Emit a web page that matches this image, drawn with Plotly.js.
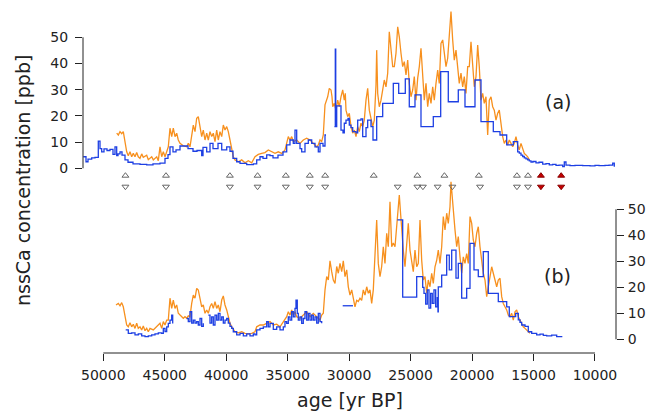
<!DOCTYPE html>
<html><head><meta charset="utf-8">
<script src="https://cdn.plot.ly/plotly-3.0.1.min.js"></script>
<style>html,body{margin:0;padding:0;background:#fff}#chart{width:646px;height:420px}</style>
</head><body><div id="chart"></div>
<script>
// ---- panel (a) ----
const ageOrangeA = [48910,48779,48641,48503,48373,48234,48096,47966,47828,47690,47559,47421,47283,47153,47014,46876,46746,46469,46339,46062,45932,45655,45525,45387,45249,45118,44980,44842,44712,44574,44435,44305,44167,44029,43899,43760,43492,43215,43085,42947,42808,42678,42540,42402,42272,42133,41995,41865,41726,41588,41458,41319,41181,41051,40913,40774,40644,40506,40367,40237,40099,39960,39830,39693,39554,39424,39285,39017,38741,38472,38204,37927,37659,37390,37114,36846,36577,36301,36032,35763,35487,35219,35080,34950,34812,34673,34543,34267,33998,33730,33453,33185,32916,32640,32509,32371,32233,32103,31964,31745,31615,31476,31394,31337,31208,31069,30931,30801,30663,30524,30394,30313,30256,30118,29987,29849,29711,29581,29442,29304,29174,29036,28898,28768,28629,28491,28361,28222,28084,27954,27816,27759,27678,27548,27409,27271,27141,27002,26864,26734,26595,26457,26327,26189,26050,25920,25782,25644,25513,25375,25237,25107,24968,24830,24700,24562,24423,24293,24155,24017,23887,23748,23610,23480,23341,23203,23073,22935,22797,22667,22528,22390,22260,22121,21983,21853,21715,21576,21446,21308,21170,21040,20901,20763,20633,20495,20356,20226,20088,19950,19820,19681,19543,19413,19274,19136,19006,18868,18729,18599,18461,18323,18193,18054,17916,17786,17648,17509,17379,17241,17103,16973,16834,16696,16566,16428,16289,16159,16020,15882,15752,15614,15475,15345];
const orangeA = [13.4,12.7,14.0,13.2,14.0,9.5,6.3,4.8,6.3,4.4,5.7,4.4,6.0,4.4,3.8,5.5,4.2,5.0,3.3,4.4,3.2,4.4,2.9,8.2,4.4,6.3,4.4,6.3,8.2,15.3,12.1,15.3,12.1,13.4,10.8,9.5,8.6,8.2,9.5,8.2,13.4,16.5,14.0,19.1,19.7,15.3,12.1,14.6,10.8,13.4,10.8,14.0,12.1,13.4,10.2,14.6,10.8,14.0,12.1,16.5,14.6,15.9,14.0,10.8,7.5,4.4,3.2,2.5,3.2,2.1,2.9,2.1,4.4,5.3,5.7,6.0,7.0,6.3,5.7,6.3,5.7,7.0,9.5,12.1,10.8,12.1,10.2,10.8,9.5,10.8,11.5,10.8,9.5,8.2,8.9,10.8,10.2,12.7,24.2,27.3,30.5,29.9,27.3,23.5,24.8,22.2,26.0,23.5,27.3,29.9,26.0,28.6,22.2,19.7,21.0,15.9,13.4,14.6,12.1,15.9,14.0,17.2,15.9,18.4,26.0,30.5,22.2,18.4,15.9,18.4,31.8,45.1,28.6,23.5,26.0,29.9,33.7,31.1,36.3,52.1,46.4,38.8,38.8,43.9,54.0,50.2,43.9,38.8,40.7,35.6,41.3,32.4,27.3,29.9,35.0,26.0,34.4,38.8,45.8,34.9,26.0,32.4,23.5,28.6,24.8,31.1,26.0,32.4,37.5,32.4,47.7,49.0,43.9,38.8,42.0,50.2,59.8,49.0,41.3,45.1,38.8,32.4,36.3,31.1,35.0,28.6,38.8,38.8,48.3,38.8,31.1,35.0,47.0,38.8,26.0,28.6,24.8,27.3,12.7,26.0,27.3,23.5,22.2,18.4,21.0,22.2,15.9,12.1,9.5,10.8,8.9,10.8,9.5,8.2,9.5,12.1,8.9,7.0,9.5,7.0,5.7,5.1,4.4,3.2];

const ageBlueA = [51627,51407,51244,50943,50675,50406,50268,50130,49943,49699,49455,49211,49048,48910,48804,48641,48478,48234,47990,47583,47014,46469,45957,45387,44980,44736,44574,44330,44085,43760,43109,42702,42377,41995,41889,41588,41319,41075,40668,40367,39960,39693,39449,39148,38879,38334,37797,37520,37252,37008,36707,36438,36194,35788,35381,35080,34812,34543,34405,34267,33998,33860,33592,33323,33046,32778,32509,32371,32290,32127,31964,31883,31500,31200,31126,31090,31012,30663,30500,30394,30256,30093,29987,29849,29711,29442,29304,29036,28898,28629,28491,28222,28060,27759,27271,26408,25969,25432,25107,24643,24155,23154,22553,21934,21121,20576,19762,19274,18273,17728,17183,16646,16289,16159,16020,15882,15752,15614,15475,15345,15207,15045,14800,14556,14255,13986,13718,13441,13173,12929,12627,12497,12359,12033,11626,11000,10406,9999,9674,9186,8860,8559,8429];
const blueA = [4.4,2.5,3.5,4.0,4.2,10.4,7.5,6.3,7.4,6.8,7.2,5.3,8.2,4.8,5.5,6.3,5.0,3.2,2.3,1.7,1.5,1.3,1.7,2.0,3.8,5.2,8.2,6.3,7.0,8.5,7.5,6.5,6.8,4.8,8.0,6.3,9.5,7.5,9.5,7.0,8.2,6.5,3.8,2.5,1.9,1.4,1.7,3.2,4.4,3.8,5.1,4.8,4.0,5.0,6.3,8.9,10.8,9.5,14.6,9.5,7.5,6.3,9.5,10.8,9.5,8.2,6.3,9.5,9.5,8.5,12.7,12.7,null,15.9,45.5,15.9,23.8,14.6,13.5,17.2,18.4,19.0,16.5,15.5,14.0,13.5,18.4,18.9,12.1,15.5,18.4,15.9,10.8,19.7,24.8,32.4,28.6,34.1,23.5,28.0,15.9,19.7,36.9,25.4,29.9,23.5,33.7,17.8,14.0,12.7,8.9,10.2,6.3,5.8,5.0,4.5,4.0,3.6,3.2,2.8,2.4,2.6,2.1,2.3,1.6,1.8,1.3,1.5,1.1,1.2,0.6,2.4,1.2,1.0,1.1,1.0,0.9,1.1,1.0,1.1,1.2,2.0,0.6];

// ---- panel (b) ----
const ageOrangeB = [48966,48779,48641,48503,48373,48234,48096,47966,47828,47690,47559,47421,47283,47153,47014,46876,46746,46607,46469,46339,46201,45932,45655,45387,45249,45118,44980,44842,44712,44574,44435,44305,44167,44029,43899,43760,43622,43492,43354,43215,43085,42947,42808,42678,42540,42402,42272,42133,41995,41865,41726,41588,41458,41319,41181,41051,40913,40774,40644,40506,40367,40237,40099,39960,39830,39693,39554,39424,39285,39017,38741,38472,38204,37927,37659,37520,37252,36983,36707,36438,36170,35894,35625,35356,35080,34950,34812,34673,34543,34405,34267,33998,33730,33453,33185,32916,32640,32371,32233,32103,31964,31826,31696,31557,31419,31289,31150,31012,30882,30744,30605,30475,30337,30199,30069,29930,29792,29662,29524,29386,29256,29117,28979,28849,28711,28572,28442,28304,28166,28036,27898,27759,27629,27491,27352,27222,27084,26945,26815,26677,26538,26408,26270,26132,26001,25920,25806,25725,25595,25456,25318,25188,25050,24911,24781,24643,24505,24375,24236,24098,23968,23829,23691,23561,23423,23284,23154,23016,22878,22748,22609,22471,22341,22202,22064,21934,21795,21715,21634,21528,21389,21251,21121,20982,20845,20714,20576,20438,20308,20168,20031,19901,19762,19624,19493,19356,19217,19087,18948,18810,18680,18542,18404,18273,18135,17997,17866,17728,17590,17460,17321,17183,17053,16914,16776,16646,16508,16370,16240,16101,15963,15833,15694,15556,15426,15288];
const orangeB = [13.2,13.8,12.9,14.1,12.5,8.7,5.5,4.8,6.4,4.8,5.8,4.2,6.2,4.2,4.8,3.6,5.1,3.3,4.2,2.9,4.2,3.6,4.8,6.2,4.2,6.8,5.5,7.4,7.4,15.8,11.9,15.1,11.9,13.2,10.0,9.3,8.7,8.1,8.7,8.1,9.0,8.7,13.8,17.0,15.8,19.6,18.9,15.1,12.5,13.2,10.0,11.3,10.0,12.5,13.8,11.9,14.5,11.9,13.2,10.6,15.1,16.7,13.2,11.3,8.7,6.2,4.8,3.6,2.9,2.5,2.9,2.3,2.1,2.3,2.9,4.8,5.5,5.5,6.2,6.8,5.5,5.8,4.8,6.8,8.7,10.6,9.3,11.3,9.3,10.6,8.7,8.1,9.3,10.6,8.7,10.0,8.7,7.4,9.3,10.0,19.0,24.1,22.8,30.2,26.0,22.8,21.5,28.0,25.4,29.2,26.0,30.2,24.1,26.7,20.2,17.0,19.0,16.4,12.5,15.0,14.5,15.8,15.0,19.0,17.0,20.2,17.7,19.0,13.8,19.0,35.6,45.9,29.2,24.1,28.0,35.6,29.2,40.8,35.6,52.9,35.6,37.0,35.6,43.3,53.6,55.5,47.8,41.3,34.3,27.9,36.9,44.6,34.3,30.4,26.0,34.3,27.9,29.2,45.9,30.4,22.8,24.1,17.7,22.8,20.2,25.4,21.5,27.9,30.4,34.3,29.2,35.6,47.2,42.1,48.5,44.6,51.0,60.6,56.0,47.2,42.1,35.6,39.5,31.7,25.4,31.7,29.2,33.0,29.2,47.2,44.6,38.2,35.6,40.8,43.3,35.6,29.2,25.4,22.8,16.4,20.2,24.1,27.9,25.4,22.8,20.2,22.8,23.5,16.4,13.8,12.5,11.3,9.3,8.7,10.0,7.4,10.6,11.3,8.7,7.4,6.2,4.8,4.2,3.6,2.9,2.3];

const ageBlueB = [48177,47966,47690,47421,47153,46876,46607,46339,46062,45794,45525,45249,45118,44980,44842,44712,44574,44435,44354,43800,43215,43085,42947,42808,42678,42540,42402,42272,42133,41995,41865,41700,41458,41319,41181,41051,40913,40774,40644,40506,40367,40237,40099,39960,39830,39693,39554,39424,39148,38879,38608,38334,38065,37797,37659,37520,37252,36983,36707,36577,36438,36170,35894,35625,35356,35219,35080,34950,34812,34673,34543,34405,34324,34218,34136,33998,33860,33730,33592,33453,33323,33185,33046,32916,32778,32640,32509,32371,32233,31500,30524,29689,28000,26083,25644,24505,24017,23911,23773,23643,23505,23367,23237,23099,22960,22830,22773,22749,22472,22065,21853,21658,21308,21121,20845,20438,20168,19843,19493,19087,18680,17866,17183,16972,16452,16238,16100,15963,15694,15426,15150,14744,14474,14205,13931,13524,13117,12710];
const blueB = [3.6,2.3,2.5,1.7,2.1,1.3,1.0,1.3,1.7,2.1,2.5,2.3,4.2,3.0,4.8,6.1,7.4,9.3,6.1,null,8.0,6.8,10.6,6.2,7.4,6.2,6.8,5.5,8.0,5.0,6.2,null,9.3,6.2,8.6,5.5,9.3,7.4,10.0,7.4,8.6,6.2,7.4,8.0,6.2,5.0,4.2,2.9,1.7,2.3,1.3,2.1,1.3,2.1,1.7,3.6,4.2,4.8,6.8,4.8,6.1,3.8,4.8,3.6,4.8,6.8,6.1,8.6,7.4,10.6,8.6,11.9,15.1,10.0,7.4,8.6,6.1,8.0,10.6,7.4,10.0,7.4,9.3,7.4,8.6,6.2,10.0,6.8,6.2,null,12.9,12.9,null,45.9,16.2,24.1,20.0,17.7,13.5,19.0,12.0,17.7,13.8,19.0,12.5,16.0,10.6,20.2,24.7,32.4,26.7,34.3,23.5,29.2,15.8,19.6,36.9,26.7,24.1,33.7,17.7,14.5,12.5,8.7,10.0,7.5,6.5,5.5,5.0,2.9,2.3,1.7,2.0,1.5,1.3,1.6,1.0,0.8];

// ---- event markers ----
const upAges = [48200,44900,39700,37450,35150,33200,31950,28000,24450,22250,19450,16350,15450];
const downAges = [48200,44900,39700,37450,35150,33200,31950,26050,24450,24000,22800,21600,19350,16350,15450];
const redAges = [14400,12750];

// ---- axes ----
const xTicks = [50000,45000,40000,35000,30000,25000,20000,15000,10000];
const yTicks = [0,10,20,30,40,50];
const panelLabels = ['(a)','(b)'];
const xTitle = 'age [yr BP]';
const yTitle = 'nssCa concentration [ppb]';

const FONT = '"DejaVu Sans", "Liberation Sans", Arial, sans-serif';
const INK = '#222222';
const ORANGE = '#f7901e';
const BLUE = '#1d3fe3';

function lineTrace(x, y, color, yaxis, shape) {
  return {x: x, y: y, type: 'scatter', mode: 'lines', yaxis: yaxis, connectgaps: false, cliponaxis: false,
          line: {color: color, width: 1.3, shape: shape || 'linear'}, hoverinfo: 'skip'};
}
function markTrace(x, row, symbol, fill, edge) {
  return {x: x, y: x.map(() => row), type: 'scatter', mode: 'markers', yaxis: 'y3', cliponaxis: false,
          marker: {symbol: symbol, size: 6, color: fill, line: {color: edge, width: 1}}, hoverinfo: 'skip'};
}

const traces = [
  lineTrace(ageOrangeA, orangeA, ORANGE, 'y'),
  lineTrace(ageBlueA, blueA, BLUE, 'y', 'hv'),
  lineTrace(ageOrangeB, orangeB, ORANGE, 'y2'),
  lineTrace(ageBlueB, blueB, BLUE, 'y2', 'hv'),
  markTrace(upAges, 'up', 'triangle-up-open', '#666', '#666'),
  markTrace(downAges, 'down', 'triangle-down-open', '#666', '#666'),
  markTrace(redAges, 'up', 'triangle-up', '#c40000', '#8a0000'),
  markTrace(redAges, 'down', 'triangle-down', '#c40000', '#8a0000')
];

const yCommon = {tickvals: yTicks, ticks: 'outside', ticklen: 7, tickwidth: 1, tickcolor: INK,
  showline: false, showgrid: false, zeroline: false, tickfont: {family: FONT, size: 14, color: INK}};

const layout = {
  width: 646, height: 420,
  margin: {l: 83, r: 30, t: 5, b: 67},
  paper_bgcolor: '#ffffff', plot_bgcolor: 'rgba(0,0,0,0)',
  showlegend: false,
  font: {family: FONT, size: 14, color: INK},
  xaxis: {range: [51651, 8291], anchor: 'y2', tickvals: xTicks, tickformat: 'd', ticks: 'outside',
          ticklen: 7, tickwidth: 1, tickcolor: INK, showline: false, showgrid: false, zeroline: false,
          tickfont: {family: FONT, size: 14, color: INK}, ticklabelstandoff: 2},
  yaxis: Object.assign({domain: [0.45, 1], range: [-10.73, 62.33], anchor: 'x', side: 'left', ticklabelstandoff: 4}, yCommon),
  yaxis2: Object.assign({domain: [0, 0.55], range: [-5.27, 68.35], anchor: 'x', side: 'right', ticklabelstandoff: 1}, yCommon),
  yaxis3: {domain: [0.4621, 0.5253], range: [-0.5, 1.5], type: 'category', categoryarray: ['down', 'up'],
           anchor: 'x', visible: false, fixedrange: true},
  shapes: [
    {type: 'line', xref: 'paper', x0: 0, x1: 0, yref: 'y', y0: yTicks[0], y1: yTicks[yTicks.length - 1], line: {color: INK, width: 1}},
    {type: 'line', xref: 'paper', x0: 1, x1: 1, yref: 'y2', y0: yTicks[0], y1: yTicks[yTicks.length - 1], line: {color: INK, width: 1}},
    {type: 'line', xref: 'x', x0: xTicks[0], x1: xTicks[xTicks.length - 1], yref: 'paper', y0: 0, y1: 0, line: {color: INK, width: 1}}
  ],
  annotations: [
    {text: panelLabels[0], xref: 'x', yref: 'y', x: 13010, y: 25.3, showarrow: false, xanchor: 'center', yanchor: 'middle',
     font: {family: FONT, size: 19, color: INK}},
    {text: panelLabels[1], xref: 'x', yref: 'y2', x: 13010, y: 24.3, showarrow: false, xanchor: 'center', yanchor: 'middle',
     font: {family: FONT, size: 19, color: INK}},
    {text: yTitle, xref: 'paper', yref: 'paper', x: -0.1126, y: 0.497, textangle: -90, showarrow: false,
     xanchor: 'center', yanchor: 'middle', font: {family: FONT, size: 19, color: INK}},
    {text: xTitle, xref: 'paper', yref: 'paper', x: 0.5, y: -0.135, showarrow: false,
     xanchor: 'center', yanchor: 'middle', font: {family: FONT, size: 19, color: INK}}
  ]
};

Plotly.newPlot('chart', traces, layout, {displayModeBar: false, staticPlot: true});
</script>
</body></html>
